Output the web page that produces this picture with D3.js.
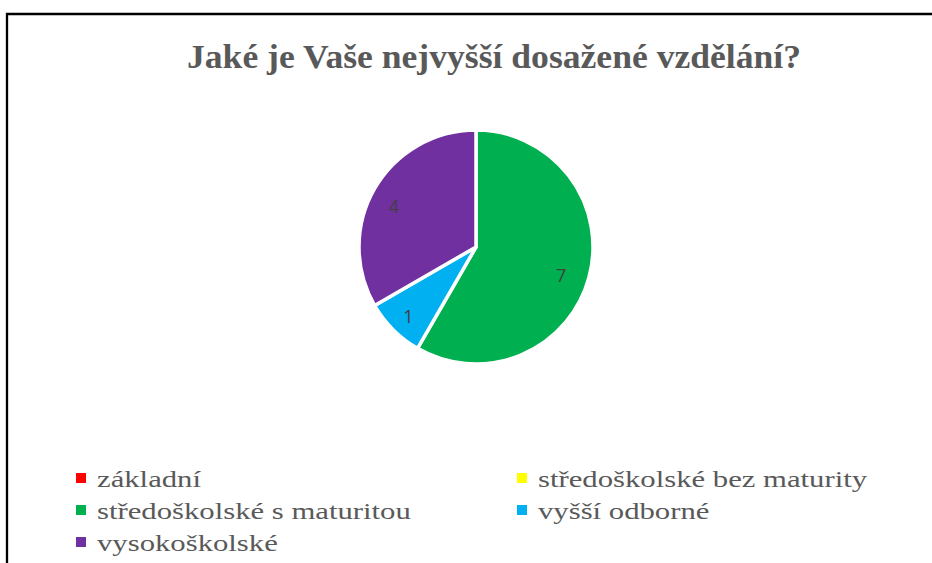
<!DOCTYPE html>
<html>
<head>
<meta charset="utf-8">
<script src="https://cdn.jsdelivr.net/npm/d3@7"></script>
<style>
  body { margin: 0; background: #fff; }
  svg { display: block; }
</style>
</head>
<body>
<svg id="chart"></svg>
<script>
const width = 932
const height = 563

const title = 'Jaké je Vaše nejvyšší dosažené vzdělání?'
const categories = ['základní', 'středoškolské bez maturity', 'středoškolské s maturitou', 'vyšší odborné', 'vysokoškolské']
const values = [0, 0, 7, 1, 4]
const colors = ['#ff0000', '#ffff00', '#00b050', '#00b0f0', '#7030a0']

const cx = 476
const cy = 247
const radius = 117

const svg = d3.select('#chart').attr('width', width).attr('height', height)

// frame (only top + left visible)
svg.append('path')
  .attr('d', `M7,${height} L7,14 L${width},14`)
  .attr('fill', 'none')
  .attr('stroke', '#000')
  .attr('stroke-width', 2.3)

svg.append('text')
  .attr('x', 494)
  .attr('y', 68)
  .attr('text-anchor', 'middle')
  .attr('font-family', '"Liberation Serif", "Times New Roman", serif')
  .attr('font-weight', 'bold')
  .attr('font-size', 34)
  .attr('textLength', 614)
  .attr('lengthAdjust', 'spacingAndGlyphs')
  .attr('fill', '#595959')
  .text(title)

const data = categories.map((c, i) => ({ name: c, value: values[i], color: colors[i] }))

const pie = d3.pie().sort(null).value(d => d.value)
const arc = d3.arc().innerRadius(0).outerRadius(radius)
const labelArc = d3.arc().innerRadius(radius * 0.78).outerRadius(radius * 0.78)

const g = svg.append('g').attr('transform', `translate(${cx},${cy})`)
const slices = pie(data).filter(d => d.data.value > 0)

g.selectAll('path')
  .data(slices)
  .join('path')
  .attr('d', arc)
  .attr('fill', d => d.data.color)
  .attr('stroke', '#fff')
  .attr('stroke-width', 3.5)
  .attr('stroke-linejoin', 'round')

g.selectAll('text')
  .data(slices)
  .join('text')
  .attr('transform', d => {
    const [x, y] = labelArc.centroid(d)
    return `translate(${x - 3},${y + 5})`
  })
  .attr('text-anchor', 'middle')
  .attr('dy', '0.35em')
  .attr('font-family', '"Open Sans", "Liberation Sans", sans-serif')
  .attr('font-size', 18)
  .attr('fill', '#404040')
  .text(d => d.data.value)

// legend, two columns, row-major
const colX = d3.scalePoint().domain([0, 1]).range([76, 517])
const rowY = d3.scaleLinear().domain([0, 1]).range([487, 519])

const legend = svg.append('g')
const item = legend.selectAll('g')
  .data(data)
  .join('g')
  .attr('transform', (d, i) => `translate(${colX(i % 2)},${rowY(Math.floor(i / 2))})`)

item.append('rect')
  .attr('x', 0)
  .attr('y', -14)
  .attr('width', 10)
  .attr('height', 10)
  .attr('fill', d => d.color)

item.append('text')
  .attr('transform', 'translate(21,0) scale(1.28,1)')
  .attr('font-family', '"Liberation Serif", "Times New Roman", serif')
  .attr('font-size', 24)
  .attr('fill', '#595959')
  .text(d => d.name)
</script>
</body>
</html>
